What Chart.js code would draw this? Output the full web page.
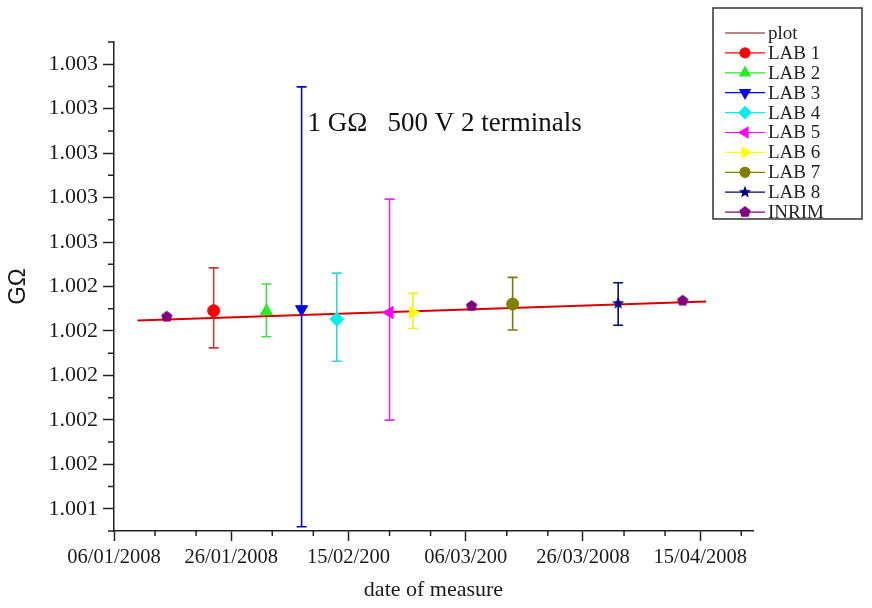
<!DOCTYPE html>
<html>
<head>
<meta charset="utf-8">
<script src="https://cdn.jsdelivr.net/npm/chart.js@4.4.0/dist/chart.umd.min.js"></script>
<style>
html,body{margin:0;padding:0;background:#fff;}
#wrap{width:872px;height:608px;position:relative;}
</style>
</head>
<body>
<div id="wrap"><canvas id="c" width="872" height="608"></canvas></div>
<script>
// ---- data ----
const labNames  = ['LAB 1','LAB 2','LAB 3','LAB 4','LAB 5','LAB 6','LAB 7','LAB 8'];
const labDates  = ['2008-01-23','2008-02-01','2008-02-07','2008-02-13','2008-02-22','2008-02-26','2008-03-14','2008-04-01'];
const labValues = [1.002291, 1.002289, 1.002298, 1.002253, 1.002283, 1.002283, 1.002321, 1.002324];
const labLow    = [1.002124, 1.002174, 1.001319, 1.002064, 1.001799, 1.002211, 1.002204, 1.002226];
const labHigh   = [1.002484, 1.002411, 1.003298, 1.002460, 1.002793, 1.002369, 1.002441, 1.002417];
const inrimDates  = ['2008-01-15','2008-03-07','2008-04-12'];
const inrimValues = [1.002264, 1.002312, 1.002336];
const fitDates  = ['2008-01-10','2008-04-16'];
const fitValues = [1.002247, 1.002332];
const xTickDates  = ['2008-01-06','2008-01-26','2008-02-15','2008-03-06','2008-03-26','2008-04-15'];
const xTickLabels = ['06/01/2008','26/01/2008','15/02/200','06/03/200','26/03/2008','15/04/2008'];
const yTickValues = [1.0014,1.0016,1.0018,1.0020,1.0022,1.0024,1.0026,1.0028,1.0030,1.0032,1.0034];
const yTickLabels = ['1.001','1.002','1.002','1.002','1.002','1.002','1.003','1.003','1.003','1.003','1.003'];
const xMinDate = '2008-01-06', xMaxDate = '2008-04-24';
const yMin = 1.0013, yMax = 1.0035;
const annotationText = '1 G\u03A9   500 V 2 terminals';
const annotationAt = {date:'2008-02-08', value:1.00310};

// ---- styles ----
const labColors   = ['#ff0000','#22ee22','#0000ff','#00f0f0','#ff00ff','#ffff00','#808000','#000080'];
const labBarColors= ['#d23a3a','#44dd44','#0a0ac0','#30d8d8','#e030e0','#eeee20','#7a7a10','#0c0c70'];
const inrimColor = '#800080';
const fitColor = '#d80000';

const dayNum = s => Date.parse(s) / 86400000;

function polyImage(n, color, star){
  const c = document.createElement('canvas');
  c.width = 14; c.height = 14;
  const g = c.getContext('2d');
  g.fillStyle = color;
  g.beginPath();
  const pts = star ? n*2 : n;
  for (let i=0;i<pts;i++){
    const a = -Math.PI/2 + i*2*Math.PI/pts;
    const r = star ? (i%2===0 ? 6.5 : 2.8) : 6;
    const px = 7 + r*Math.cos(a), py = 7 + r*Math.sin(a);
    if(i===0) g.moveTo(px,py); else g.lineTo(px,py);
  }
  g.closePath(); g.fill();
  return c;
}
const starImg = polyImage(5, labColors[7], true);
const pentImg = polyImage(5, inrimColor, false);

const labStyles = [
  {pointStyle:'circle', rotation:0, radius:6},
  {pointStyle:'triangle', rotation:0, radius:7},
  {pointStyle:'triangle', rotation:180, radius:7},
  {pointStyle:'rectRot', rotation:0, radius:7},
  {pointStyle:'triangle', rotation:270, radius:7},
  {pointStyle:'triangle', rotation:90, radius:7},
  {pointStyle:'circle', rotation:0, radius:6},
  {pointStyle:starImg, rotation:0, radius:7}
];

const datasets = [];
datasets.push({
  label:'plot', order:10,
  data: fitDates.map((d,i)=>({x:dayNum(d), y:fitValues[i]})),
  showLine:true, borderColor:fitColor, backgroundColor:fitColor, borderWidth:2,
  pointRadius:0, legendColor:'#7a1010'
});
labNames.forEach((name,i)=>{
  datasets.push({
    label:name, order:0,
    data:[{x:dayNum(labDates[i]), y:labValues[i]}],
    errLow:[labLow[i]], errHigh:[labHigh[i]], errColor:labBarColors[i],
    pointStyle:labStyles[i].pointStyle, rotation:labStyles[i].rotation,
    pointRadius:labStyles[i].radius, borderWidth:1,
    backgroundColor:labColors[i], borderColor:labColors[i], legendColor:labColors[i]
  });
});
datasets.push({
  label:'INRIM', order:0,
  data: inrimDates.map((d,i)=>({x:dayNum(d), y:inrimValues[i]})),
  pointStyle:pentImg, pointRadius:7, borderWidth:1,
  backgroundColor:inrimColor, borderColor:inrimColor, legendColor:inrimColor
});

const AXIS = '#222';
const serif = "'Liberation Serif', 'Times New Roman', serif";

const errorBars = {
  id:'errorBars',
  beforeDatasetsDraw(chart){
    const {ctx, scales:{x,y}} = chart;
    ctx.save();
    chart.data.datasets.forEach(ds=>{
      if(!ds.errLow) return;
      ds.data.forEach((p,i)=>{
        const px = x.getPixelForValue(p.x);
        const t = y.getPixelForValue(ds.errHigh[i]);
        const b = y.getPixelForValue(ds.errLow[i]);
        ctx.strokeStyle = ds.errColor; ctx.lineWidth = 1.6;
        ctx.beginPath();
        ctx.moveTo(px,t); ctx.lineTo(px,b);
        ctx.moveTo(px-5,t); ctx.lineTo(px+5,t);
        ctx.moveTo(px-5,b); ctx.lineTo(px+5,b);
        ctx.stroke();
      });
    });
    ctx.restore();
  }
};

const extras = {
  id:'extras',
  afterDraw(chart){
    const {ctx, scales:{x,y}} = chart;
    ctx.save();
    // minor ticks
    ctx.strokeStyle = AXIS; ctx.lineWidth = 1.5;
    ctx.beginPath();
    x.ticks.forEach(t=>{
      [7,14].forEach(k=>{
        const v = t.value + k;
        if (v <= x.max){ const px = x.getPixelForValue(v); ctx.moveTo(px, x.top); ctx.lineTo(px, x.top+5); }
      });
    });
    const yMinor = [yMin, yMax].concat(yTickValues.slice(0,-1).map(v=>v+0.0001));
    yMinor.forEach(v=>{ const py = y.getPixelForValue(v); ctx.moveTo(y.right, py); ctx.lineTo(y.right-6, py); });
    ctx.stroke();

    // annotation
    ctx.fillStyle = '#111';
    ctx.font = "27px " + serif;
    ctx.textAlign = 'left'; ctx.textBaseline = 'alphabetic';
    ctx.fillText(annotationText, x.getPixelForValue(dayNum(annotationAt.date)), y.getPixelForValue(annotationAt.value));

    // legend box
    const bx = 713, by = 8, bw = 149, bh = 211;
    ctx.strokeStyle = '#333'; ctx.lineWidth = 1.5;
    ctx.strokeRect(bx, by, bw, bh);
    ctx.font = "19px " + serif;
    ctx.textBaseline = 'middle';
    chart.data.datasets.forEach((ds,i)=>{
      const ly = by + 25 + i*19.9;
      ctx.strokeStyle = ds.legendColor; ctx.lineWidth = 1.2;
      ctx.beginPath(); ctx.moveTo(bx+12, ly); ctx.lineTo(bx+52, ly); ctx.stroke();
      if (ds.pointRadius > 0){
        ctx.fillStyle = ds.backgroundColor; ctx.strokeStyle = ds.borderColor;
        Chart.helpers.drawPoint(ctx, {pointStyle:ds.pointStyle, rotation:ds.rotation||0, radius:ds.pointRadius-1, borderWidth:1}, bx+32, ly);
      }
      ctx.fillStyle = '#222';
      ctx.fillText(ds.label, bx+55, ly+1);
    });
    ctx.restore();
  }
};

new Chart(document.getElementById('c'), {
  type:'scatter',
  data:{datasets},
  plugins:[errorBars, extras],
  options:{
    responsive:false, animation:false, events:[],
    layout:{padding:{left:0, right:119, top:42, bottom:0}},
    plugins:{legend:{display:false}, tooltip:{enabled:false}},
    scales:{
      x:{
        type:'linear', position:'bottom',
        min:dayNum(xMinDate), max:dayNum(xMaxDate),
        afterBuildTicks(s){ s.ticks = xTickDates.map(d=>({value:dayNum(d)})); },
        afterFit(s){ s.height = 77; },
        grid:{display:true, drawOnChartArea:false, drawTicks:true, tickLength:10, color:AXIS, tickColor:AXIS, tickWidth:1.5},
        border:{display:true, color:AXIS, width:1.5},
        ticks:{autoSkip:false, maxRotation:0, minRotation:0, padding:4, color:'#1a1a1a',
               font:{family:serif, size:20.5},
               callback:(v,i)=>xTickLabels[i]},
        title:{display:true, text:'date of measure', color:'#1a1a1a', font:{family:serif, size:22}, padding:{top:0,bottom:5}}
      },
      y:{
        type:'linear', position:'left', min:yMin, max:yMax,
        afterBuildTicks(s){ s.ticks = yTickValues.map(v=>({value:v})); },
        afterFit(s){ s.width = 114; },
        grid:{display:true, drawOnChartArea:false, drawTicks:true, tickLength:11, color:AXIS, tickColor:AXIS, tickWidth:1.5},
        border:{display:true, color:AXIS, width:1.5},
        ticks:{autoSkip:false, padding:5, color:'#1a1a1a', font:{family:serif, size:22},
               callback:(v,i)=>yTickLabels[i]},
        title:{display:true, text:'G\u03A9', color:'#1a1a1a', font:{family:"'Liberation Sans', Arial, sans-serif", size:24}, padding:{top:4,bottom:0}}
      }
    }
  }
});
</script>
</body>
</html>
